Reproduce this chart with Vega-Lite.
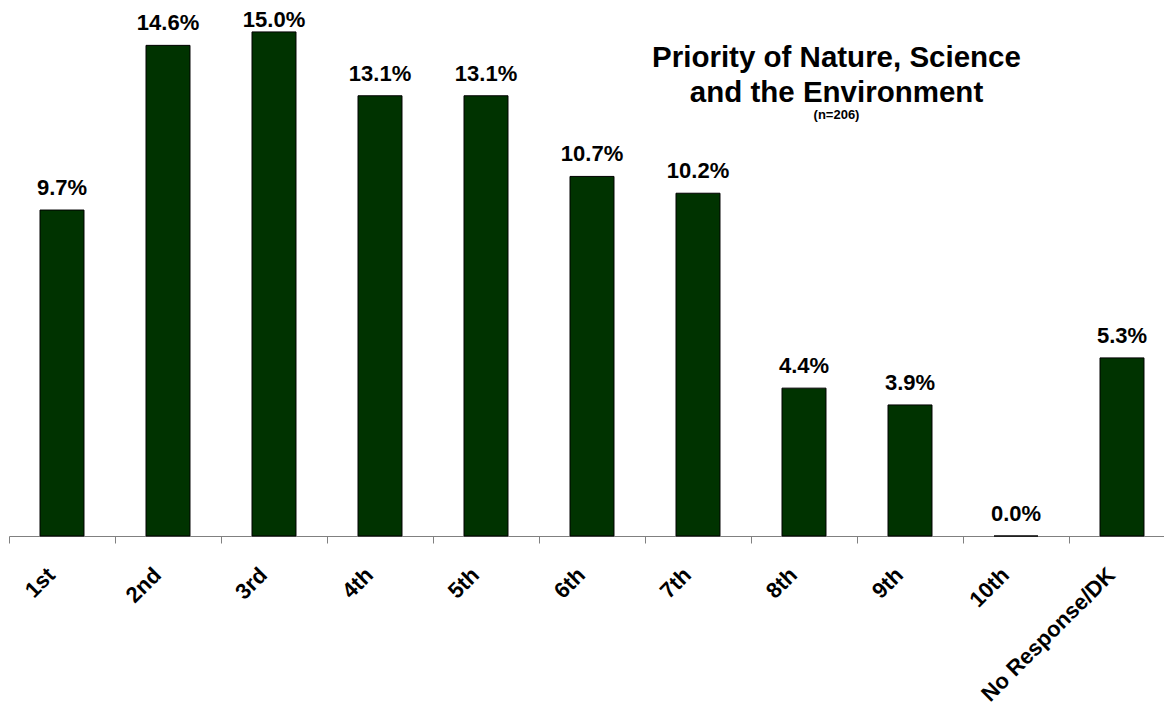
{
  "$schema": "https://vega.github.io/schema/vega-lite/v6.json",
  "autosize": {"type": "none"},
  "padding": {"left": 9, "top": 0, "right": 0, "bottom": 172},
  "width": 1155,
  "height": 536,
  "background": "white",
  "config": {
    "view": {"stroke": null},
    "font": "Liberation Sans"
  },
  "title": {
    "text": ["Priority of Nature, Science", "and the Environment"],
    "subtitle": "(n=206)",
    "font": "Liberation Sans",
    "fontSize": 29.5,
    "fontWeight": "bold",
    "color": "black",
    "lineHeight": 35,
    "subtitleFont": "Liberation Sans",
    "subtitleFontSize": 13,
    "subtitleFontWeight": "bold",
    "subtitleColor": "black",
    "subtitlePadding": 1,
    "anchor": "middle",
    "frame": "group",
    "orient": "top",
    "baseline": "top",
    "dx": 250,
    "dy": 123,
    "offset": 0
  },
  "data": {
    "values": [
      {"rank": "1st", "share": 0.097},
      {"rank": "2nd", "share": 0.146},
      {"rank": "3rd", "share": 0.150},
      {"rank": "4th", "share": 0.131},
      {"rank": "5th", "share": 0.131},
      {"rank": "6th", "share": 0.107},
      {"rank": "7th", "share": 0.102},
      {"rank": "8th", "share": 0.044},
      {"rank": "9th", "share": 0.039},
      {"rank": "10th", "share": 0.0},
      {"rank": "No Response/DK", "share": 0.053}
    ]
  },
  "encoding": {
    "x": {
      "field": "rank",
      "type": "nominal",
      "sort": null,
      "scale": {"range": [0, 1166], "paddingInner": 0, "paddingOuter": 0},
      "axis": {
        "title": null,
        "labelAngle": -45,
        "labelAlign": "right",
        "labelBaseline": "middle",
        "labelFont": "Liberation Sans",
        "labelFontSize": 22,
        "labelFontWeight": "bold",
        "labelColor": "black",
        "labelPadding": 28,
        "labelOffset": -11,
        "labelOverlap": false,
        "labelLimit": 400,
        "domainColor": "#808080",
        "tickColor": "#808080",
        "tickSize": 7,
        "tickBand": "extent",
        "grid": false
      }
    }
  },
  "layer": [
    {
      "mark": {"type": "bar", "width": {"band": 0.415}, "fill": "#003300", "stroke": "black", "strokeWidth": 1},
      "encoding": {
        "y": {
          "field": "share",
          "type": "quantitative",
          "scale": {"domain": [0, 0.1595], "nice": false},
          "axis": null
        }
      }
    },
    {
      "mark": {"type": "text", "baseline": "alphabetic", "dy": -15, "font": "Liberation Sans", "fontSize": 22, "fontWeight": "bold", "color": "black"},
      "encoding": {
        "y": {
          "field": "share",
          "type": "quantitative",
          "scale": {"domain": [0, 0.147], "range": [536, 42], "nice": false, "zero": true, "clamp": true},
          "axis": null
        },
        "text": {"field": "share", "type": "quantitative", "format": ".1%"}
      }
    }
  ],
  "resolve": {"scale": {"y": "independent"}}
}
